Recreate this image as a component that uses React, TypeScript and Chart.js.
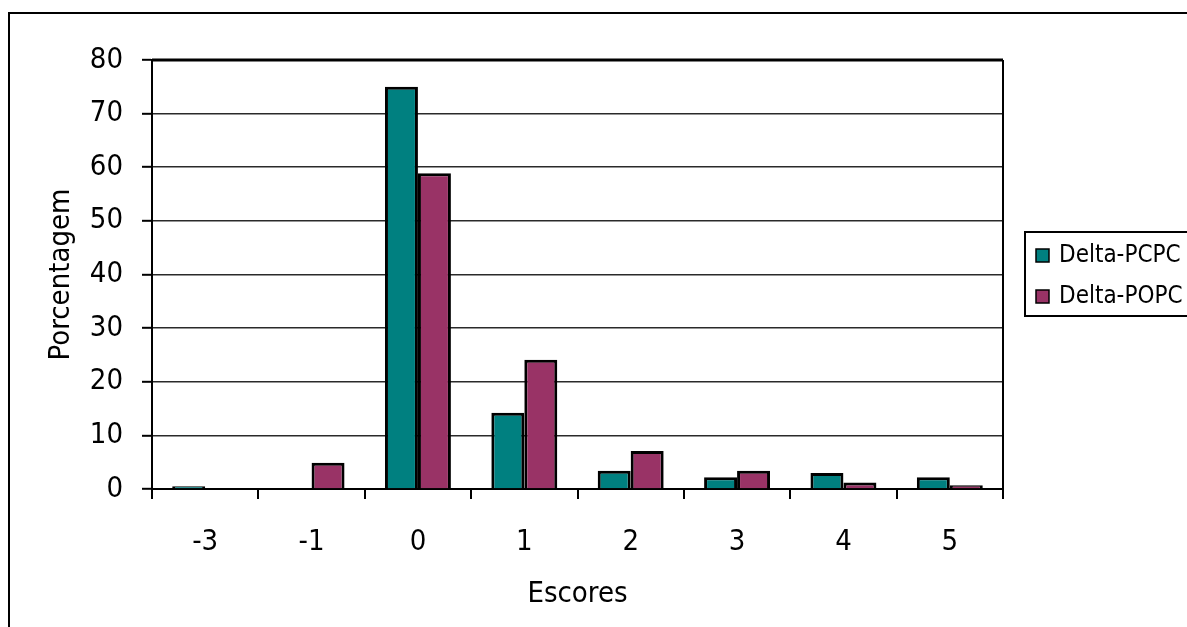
import React, { useEffect, useRef } from "react";
import { Chart, registerables } from "chart.js";

Chart.register(...registerables);

// Score categories and percentage per series
const escores = ["-3", "-1", "0", "1", "2", "3", "4", "5"];
const deltaPCPC = [0.5, 0, 75, 14.2, 3.4, 2.2, 3.0, 2.2];
const deltaPOPC = [0, 4.9, 58.9, 24.1, 7.1, 3.4, 1.2, 0.7];
const seriesNames = ["Delta-PCPC", "Delta-POPC"];
const seriesColors = ["#008080", "#993366"];

const FAMILY = "'DejaVu Sans Condensed', 'DejaVu Sans', sans-serif";

// Frame around the whole figure, plot-area border and a boxed legend
const framePlugin = {
  id: "frame",
  afterDraw(chart: any) {
    const { ctx, chartArea } = chart;
    ctx.save();
    ctx.strokeStyle = "#000";
    ctx.lineWidth = 2;
    ctx.strokeRect(9, 13, 1400, 900);

    ctx.lineWidth = 3;
    ctx.beginPath();
    ctx.moveTo(chartArea.left, chartArea.top);
    ctx.lineTo(chartArea.right, chartArea.top);
    ctx.stroke();
    ctx.lineWidth = 2;
    ctx.beginPath();
    ctx.moveTo(chartArea.right, chartArea.top);
    ctx.lineTo(chartArea.right, chartArea.bottom);
    ctx.stroke();

    // legend
    const bx = 1025, by = 232, bh = 84;
    ctx.lineWidth = 2;
    ctx.strokeRect(bx, by, 300, bh);
    ctx.font = `24px ${FAMILY}`;
    ctx.textBaseline = "middle";
    ctx.textAlign = "left";
    chart.data.datasets.forEach((ds: any, i: number) => {
      const cy = 255 + i * 41;
      ctx.fillStyle = ds.backgroundColor;
      ctx.fillRect(1036, cy - 6, 13, 13);
      ctx.lineWidth = 1.5;
      ctx.strokeStyle = "#000";
      ctx.strokeRect(1036, cy - 6, 13, 13);
      ctx.fillStyle = "#000";
      ctx.fillText(ds.label, 1059, cy + 1);
    });
    ctx.restore();
  },
};

export default function App() {
  const ref = useRef<HTMLCanvasElement | null>(null);

  useEffect(() => {
    if (!ref.current) return;
    Chart.defaults.color = "#000";
    const chart = new Chart(ref.current, {
      type: "bar",
      data: {
        labels: escores,
        datasets: [
          {
            label: seriesNames[0],
            data: deltaPCPC,
            backgroundColor: seriesColors[0],
            borderColor: "#000",
            borderWidth: 3,
          },
          {
            label: seriesNames[1],
            data: deltaPOPC,
            backgroundColor: seriesColors[1],
            borderColor: "#000",
            borderWidth: 3,
          },
        ],
      },
      options: {
        responsive: false,
        animation: false,
        layout: { padding: { left: 0, right: 184, top: 60, bottom: 0 } },
        datasets: {
          bar: { categoryPercentage: 0.62, barPercentage: 1 },
        },
        plugins: {
          legend: { display: false },
          tooltip: { enabled: false },
        },
        scales: {
          x: {
            afterFit: (s: any) => {
              s.height = 138;
            },
            grid: {
              offset: true,
              drawOnChartArea: false,
              drawTicks: true,
              tickLength: 10,
              color: "#000",
              lineWidth: 2,
            },
            border: { display: true, color: "#000", width: 2 },
            ticks: {
              padding: 29,
              font: { family: FAMILY, size: 29, lineHeight: 1 },
              color: "#000",
            },
            title: {
              display: true,
              text: "Escores",
              font: { family: FAMILY, size: 29, lineHeight: 1 },
              padding: { top: 0, bottom: 18 },
              color: "#000",
            },
          },
          y: {
            min: 0,
            max: 80,
            afterFit: (s: any) => {
              s.width = 152;
            },
            ticks: {
              stepSize: 10,
              padding: 19,
              font: { family: FAMILY, size: 29, lineHeight: 1 },
              color: "#000",
            },
            grid: {
              color: "#2a2a2a",
              lineWidth: 1.6,
              drawTicks: true,
              tickLength: 10,
              tickColor: "#000",
              tickWidth: 2,
            },
            border: { display: true, color: "#000", width: 2 },
            title: {
              display: true,
              text: "Porcentagem",
              font: { family: FAMILY, size: 29, lineHeight: 1 },
              padding: { top: 47, bottom: 0 },
              color: "#000",
            },
          },
        },
      },
      plugins: [framePlugin],
    });
    return () => chart.destroy();
  }, []);

  return (
    <div style={{ position: "fixed", left: 0, top: 0, width: 1187, height: 627, background: "#fff" }}>
      <canvas ref={ref} width={1187} height={627} style={{ display: "block" }} />
    </div>
  );
}
